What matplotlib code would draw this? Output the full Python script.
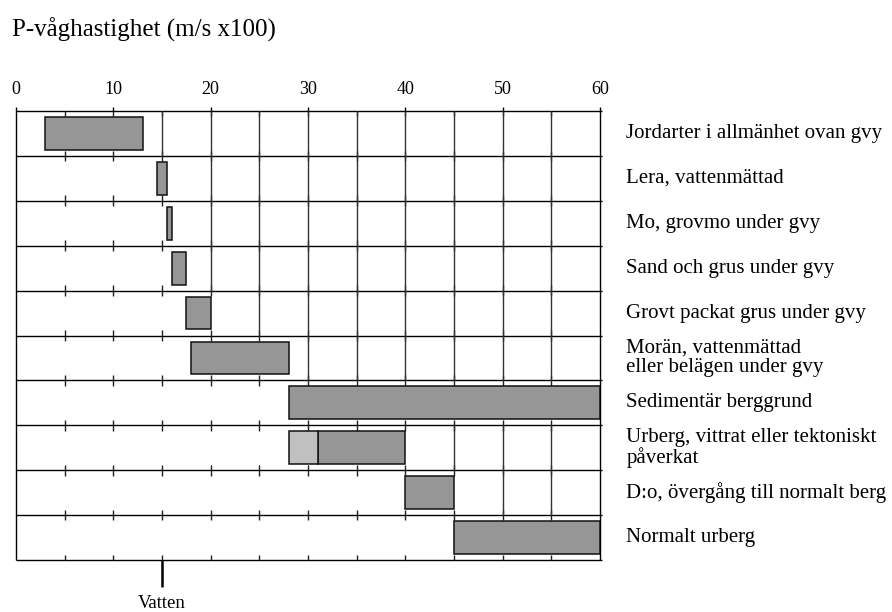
import matplotlib

matplotlib.use("Agg")
import matplotlib.pyplot as plt

plt.rcParams["font.family"] = ["Liberation Serif", "DejaVu Serif"]

# P-wave velocity ranges (m/s x100) per material
categories = [
  "Jordarter i allmänhet ovan gvy",
  "Lera, vattenmättad",
  "Mo, grovmo under gvy",
  "Sand och grus under gvy",
  "Grovt packat grus under gvy",
  "Morän, vattenmättad\neller belägen under gvy",
  "Sedimentär berggrund",
  "Urberg, vittrat eller tektoniskt\npåverkat",
  "D:o, övergång till normalt berg",
  "Normalt urberg",
]
v_low = [3, 14.5, 15.5, 16, 17.5, 18, 28, 31, 40, 45]
v_high = [13, 15.5, 16, 17.5, 20, 28, 60, 40, 45, 60]
# lighter part of the weathered bedrock range
light_row = 7
light_low = 28
light_high = 31
water_velocity = 15
x_ticks = [0, 10, 20, 30, 40, 50, 60]

n_rows = len(categories)
x_max = 60
tick_half = 0.12
dark = "#969696"
light = "#c0c0c0"

fig = plt.figure(figsize=(8.92, 6.12), dpi=100)
ax = fig.add_axes([16 / 892, 1 - 560 / 612, 584 / 892, 449 / 612])
ax.set_xlim(0, x_max)
ax.set_ylim(n_rows, 0)
for s in ax.spines.values():
  s.set_visible(False)

# row lines with small ticks every 5
for yb in range(n_rows + 1):
  ax.hlines(yb, 0, x_max + 0.25, color="black", lw=1.0, clip_on=False)
  for xv in range(5, x_max, 5):
    lo = yb - tick_half if yb > 0 else yb
    hi = yb + tick_half if yb < n_rows else yb
    ax.vlines(xv, lo, hi, color="#222222", lw=1.0, clip_on=False)
ax.vlines([0, x_max], 0, n_rows, color="black", lw=1.0, clip_on=False)

# vertical grid only to the right of each bar
for i in range(n_rows):
  for xv in range(5, x_max, 5):
    if xv > v_high[i]:
      ax.vlines(xv, i, i + 1, color="#333333", lw=1.0)

lefts = list(v_low)
widths = [h - l for l, h in zip(v_low, v_high)]
ax.barh([i + 0.5 for i in range(n_rows)], widths, left=lefts, height=0.73,
        color=dark, edgecolor="#111111", lw=1.1, zorder=3)
ax.barh(light_row + 0.5, light_high - light_low, left=light_low, height=0.73,
        color=light, edgecolor="#111111", lw=1.1, zorder=3)

for i, name in enumerate(categories):
  ax.text(62.7, i + 0.5, name, ha="left", va="center", fontsize=15,
          linespacing=1.0)

ax.xaxis.tick_top()
ax.set_xticks(x_ticks)
ax.set_xticklabels([str(v) for v in x_ticks], fontsize=13)
ax.tick_params(axis="x", length=3, width=1.0, pad=6)
ax.set_yticks([])

ax.vlines(water_velocity, n_rows, n_rows + 0.6, color="black", lw=1.8,
          clip_on=False)
ax.text(water_velocity, n_rows + 0.97, "Vatten", ha="center", va="center",
        fontsize=13.5)

fig.text(12 / 892, 1 - 37 / 612, "P-våghastighet (m/s x100)", ha="left",
         va="baseline", fontsize=18)

fig.savefig("out.png", dpi=100)
